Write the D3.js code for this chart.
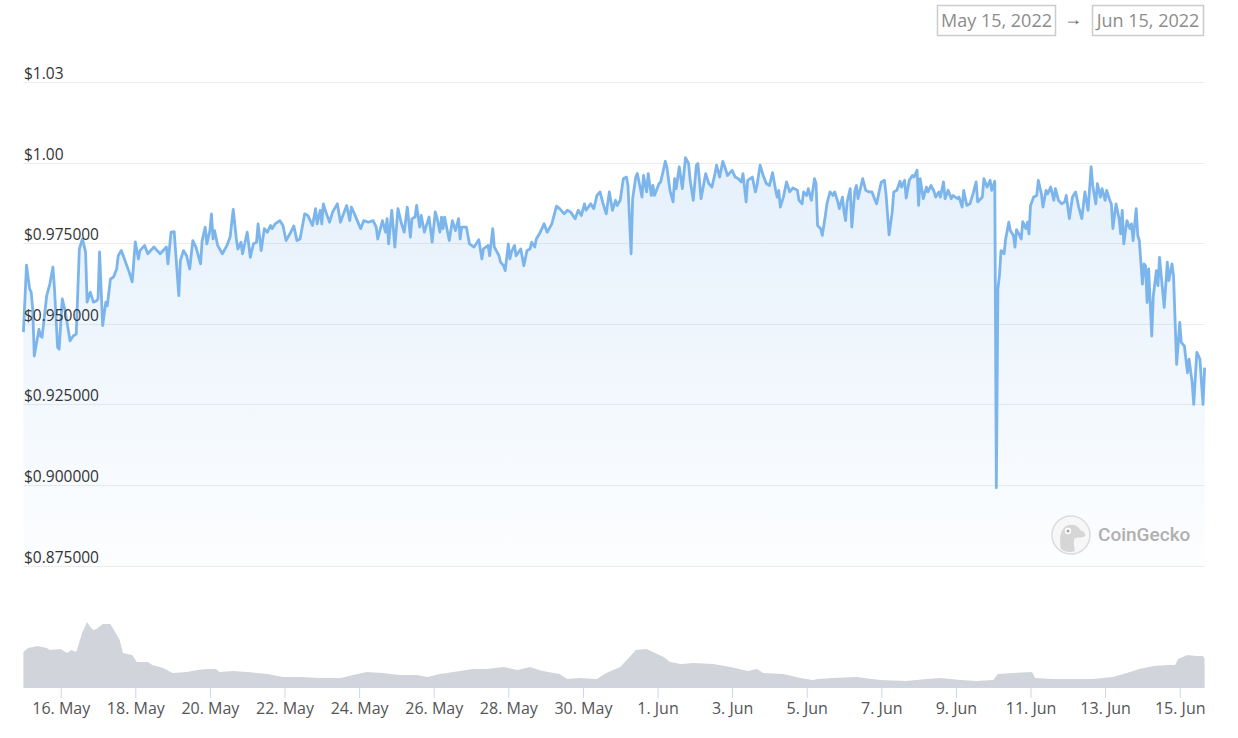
<!DOCTYPE html>
<html><head><meta charset="utf-8">
<script src="https://cdn.jsdelivr.net/npm/d3@7"></script>
<style>
html,body{margin:0;padding:0;background:#fff;}
svg{display:block;font-family:"Open Sans","Noto Sans",sans-serif;}
</style></head>
<body><svg id="c" width="1238" height="738"></svg>
<script>
// ---- data ----
const startDate = new Date(2022, 4, 15, 0, 0); // hours below are offsets from here
const rangeLabels = ["May 15, 2022", "Jun 15, 2022"];
const yTickValues = [0.875, 0.9, 0.925, 0.95, 0.975, 1.0, 1.025];
const yTickLabels = ["$0.875000", "$0.900000", "$0.925000", "$0.950000", "$0.975000", "$1.00", "$1.03"];
const xTickStart = new Date(2022, 4, 16);
const xTickEnd = new Date(2022, 5, 16);
// [hour offset, price USD]
const prices = [[0,.9474],[2,.9682],[4,.9608],[5,.9598],[6,.9545],[7,.9400],[10,.9483],[11,.9462],[12,.9458],[15,.9587],[17,.9623],[19,.9676],[20,.9608],[22,.9427],[23,.9421],[25,.9577],[27,.9536],[30,.9447],[32,.9462],[34,.9468],[36,.9732],[38,.9763],[40,.9723],[41,.9567],[43,.9598],[45,.9567],[47,.9571],[48,.9577],[49,.9723],[51,.9494],[53,.9567],[54,.9556],[56,.9639],[58,.9645],[60,.9670],[61,.9711],[63,.9727],[65,.9701],[68,.9661],[70,.9630],[72,.9754],[74,.9701],[75,.9727],[78,.9743],[80,.9717],[84,.9738],[86,.9727],[88,.9717],[92,.9738],[93,.9686],[95,.9784],[97,.9786],[100,.9587],[101,.9696],[103,.9727],[105,.9711],[107,.9670],[109,.9758],[111,.9738],[114,.9686],[115,.9758],[117,.9800],[118,.9748],[120,.9789],[121,.9841],[122,.9763],[123,.9789],[125,.9743],[128,.9717],[131,.9743],[133,.9769],[135,.9855],[137,.9763],[138,.9732],[140,.9753],[141,.9717],[144,.9784],[146,.9706],[148,.9748],[150,.9753],[151,.9810],[153,.9727],[155,.9795],[157,.9784],[159,.9805],[160,.9795],[162,.9810],[165,.9820],[167,.9805],[169,.9758],[172,.9784],[174,.9803],[176,.9758],[178,.9763],[181,.9841],[183,.9836],[186,.9805],[188,.9857],[189,.9810],[191,.9852],[192,.9810],[193,.9872],[195,.9841],[197,.9815],[199,.9847],[202,.9872],[204,.9815],[206,.9841],[208,.9867],[210,.9820],[211,.9862],[213,.9841],[217,.9795],[219,.9820],[222,.9815],[225,.9820],[227,.9800],[228,.9763],[231,.9820],[233,.9784],[234,.9826],[235,.9748],[237,.9852],[239,.9738],[241,.9857],[243,.9815],[245,.9784],[247,.9862],[249,.9769],[250,.9826],[252,.9831],[253,.9867],[255,.9800],[256,.9836],[258,.9784],[261,.9831],[263,.9753],[265,.9847],[266,.9831],[268,.9784],[269,.9831],[270,.9795],[271,.9831],[274,.9758],[276,.9820],[278,.9789],[280,.9826],[281,.9763],[282,.9800],[285,.9800],[287,.9748],[290,.9738],[293,.9761],[295,.9701],[296,.9732],[299,.9743],[300,.9711],[302,.9795],[303,.9738],[306,.9711],[307,.9691],[309,.9680],[310,.9665],[312,.9748],[313,.9701],[314,.9722],[316,.9743],[317,.9711],[320,.9732],[322,.9680],[324,.9727],[326,.9732],[327,.9753],[329,.9738],[330,.9763],[332,.9779],[335,.9810],[337,.9784],[340,.9810],[343,.9865],[345,.9857],[348,.9841],[350,.9852],[352,.9847],[355,.9826],[357,.9852],[359,.9836],[361,.9872],[362,.9852],[365,.9872],[367,.9857],[369,.9898],[371,.9909],[373,.9872],[375,.9841],[377,.9909],[379,.9852],[381,.9883],[382,.9867],[384,.9883],[386,.9950],[388,.9955],[389,.9929],[391,.9717],[392,.9888],[394,.9955],[395,.9966],[397,.9919],[398,.9893],[399,.9960],[401,.9909],[402,.9966],[404,.9898],[405,.9929],[406,.9898],[409,.9935],[410,.9940],[411,.9960],[413,1.0004],[414,.9987],[416,.9914],[418,.9878],[419,.9950],[420,.9919],[422,.9987],[424,.9919],[426,1.0015],[428,.9997],[429,.9945],[431,.9883],[433,.9992],[434,.9997],[436,.9888],[439,.9966],[441,.9935],[443,.9924],[445,.9966],[446,.9992],[448,.9955],[450,1.0004],[452,.9976],[453,.9960],[456,.9976],[458,.9955],[460,.9950],[462,.9940],[463,.9966],[465,.9878],[466,.9945],[469,.9955],[471,.9909],[472,.9929],[474,.9992],[476,.9960],[478,.9935],[480,.9929],[482,.9969],[484,.9914],[485,.9893],[486,.9914],[487,.9862],[489,.9893],[491,.9940],[493,.9909],[495,.9921],[498,.9914],[499,.9883],[501,.9872],[502,.9909],[504,.9898],[505,.9919],[507,.9883],[509,.9950],[510,.9935],[511,.9805],[513,.9795],[514,.9774],[516,.9836],[517,.9872],[519,.9909],[521,.9898],[522,.9909],[524,.9878],[525,.9857],[527,.9893],[528,.9847],[529,.9820],[530,.9878],[532,.9919],[533,.9800],[535,.9914],[536,.9929],[537,.9888],[539,.9929],[540,.9950],[542,.9914],[544,.9909],[546,.9909],[548,.9883],[549,.9872],[551,.9919],[552,.9940],[554,.9945],[555,.9903],[557,.9776],[559,.9847],[560,.9909],[562,.9914],[564,.9942],[565,.9924],[567,.9945],[568,.9890],[570,.9945],[572,.9960],[573,.9955],[575,.9976],[576,.9867],[577,.9950],[579,.9888],[581,.9924],[582,.9909],[584,.9929],[586,.9909],[587,.9893],[589,.9909],[590,.9893],[592,.9940],[593,.9888],[595,.9914],[597,.9888],[598,.9898],[601,.9888],[602,.9893],[604,.9862],[605,.9914],[607,.9867],[609,.9872],[611,.9903],[613,.9940],[614,.9878],[617,.9893],[618,.9950],[620,.9924],[622,.9945],[623,.9914],[625,.9942],[626,.8991],[627,.9608],[628,.9649],[629,.9727],[631,.9717],[632,.9763],[634,.9815],[635,.9789],[637,.9774],[638,.9738],[639,.9792],[641,.9774],[642,.9763],[643,.9817],[645,.9795],[646,.9815],[647,.9779],[648,.9867],[650,.9893],[652,.9898],[653,.9945],[655,.9903],[656,.9862],[658,.9914],[659,.9903],[661,.9924],[663,.9883],[664,.9919],[666,.9883],[668,.9872],[670,.9878],[671,.9898],[673,.9826],[675,.9893],[677,.9909],[679,.9862],[681,.9826],[683,.9909],[685,.9852],[687,.9987],[688,.9929],[690,.9872],[691,.9935],[693,.9893],[694,.9919],[696,.9883],[697,.9914],[699,.9883],[700,.9872],[701,.9795],[703,.9872],[705,.9826],[706,.9779],[707,.9852],[708,.9748],[710,.9820],[712,.9795],[713,.9810],[714,.9758],[716,.9857],[717,.9774],[718,.9758],[720,.9623],[721,.9686],[722,.9680],[723,.9566],[724,.9670],[726,.9462],[727,.9587],[729,.9665],[730,.9618],[731,.9706],[734,.9551],[736,.9691],[737,.9634],[739,.9686],[740,.9649],[742,.9374],[744,.9504],[745,.9442],[747,.9431],[749,.9348],[750,.9390],[752,.9317],[753,.9250],[755,.9411],[757,.9390],[758,.9317],[759,.9250],[760,.9364]];
// [hour offset, volume (USD millions, estimated)]
const volumes = [[0,350],[3,390],[9,410],[15,390],[17,370],[24,380],[28,340],[31,370],[34,350],[36,450],[38,550],[41,650],[43,600],[45,570],[47,580],[51,630],[56,630],[59,550],[62,470],[64,340],[70,320],[73,250],[80,250],[83,220],[90,190],[96,140],[105,150],[112,170],[118,180],[124,180],[126,150],[135,160],[144,150],[157,130],[167,100],[178,100],[191,90],[204,90],[212,120],[221,150],[231,140],[242,120],[253,120],[260,100],[268,130],[281,160],[289,180],[298,180],[309,200],[318,170],[326,200],[334,160],[345,130],[350,80],[358,90],[369,80],[375,140],[384,200],[390,300],[394,370],[401,380],[405,350],[412,300],[416,250],[423,230],[431,240],[444,230],[455,200],[466,160],[472,180],[476,140],[489,130],[500,90],[508,70],[511,80],[521,90],[536,100],[551,70],[568,60],[581,80],[590,90],[603,70],[613,60],[624,70],[627,130],[637,140],[649,150],[651,90],[662,80],[675,80],[688,80],[701,100],[710,140],[718,180],[727,210],[736,220],[741,220],[743,280],[749,320],[755,310],[759,310],[760,280]];

// ---- drawing ----
const HOUR = 3600e3;
const toDate = h => new Date(startDate.getTime() + h * HOUR);
const svg = d3.select("#c");
const left = 23.4, right = 1204.6;

const x = d3.scaleTime().domain([toDate(0), toDate(760)]).range([left, right]);
const y = d3.scaleLinear().domain([0.875, 1.025]).range([565.5, 82]);
const yv = d3.scaleLinear().domain([0, 700]).range([687, 617]);

// gradient
const defs = svg.append("defs");
const grad = defs.append("linearGradient").attr("id", "g").attr("gradientUnits", "userSpaceOnUse")
  .attr("x1", 0).attr("x2", 0).attr("y1", y(1.0)).attr("y2", y(0.875));
grad.append("stop").attr("offset", 0).attr("stop-color", "#7cb5ec").attr("stop-opacity", 0.2);
grad.append("stop").attr("offset", 1).attr("stop-color", "#7cb5ec").attr("stop-opacity", 0.02);

// gridlines
svg.append("g").selectAll("line").data(yTickValues).join("line")
  .attr("x1", left).attr("x2", right)
  .attr("y1", d => Math.round(y(d)) + 0.5).attr("y2", d => Math.round(y(d)) + 0.5)
  .attr("stroke", "#ececec").attr("stroke-width", 1);

// area + line
const area = d3.area().x(d => x(toDate(d[0]))).y0(y(0.875)).y1(d => y(d[1]));
svg.append("path").datum(prices).attr("d", area).attr("fill", "url(#g)");
const line = d3.line().x(d => x(toDate(d[0]))).y(d => y(d[1]));
svg.append("path").datum(prices).attr("d", line).attr("fill", "none")
  .attr("stroke", "#7cb5ec").attr("stroke-width", 2.8).attr("stroke-linejoin", "round");

// y labels
svg.append("g").selectAll("text").data(yTickValues).join("text")
  .attr("x", 24).attr("y", d => y(d) - 3)
  .attr("font-size", 15.5).attr("fill", "#333")
  .text((d, i) => yTickLabels[i]);

// volume
const varea = d3.area().x(d => x(toDate(d[0]))).y0(yv(0)).y1(d => yv(d[1]));
svg.append("path").datum(volumes).attr("d", varea).attr("fill", "#d1d4db");

// x axis
const xTicks = d3.timeDay.range(xTickStart, xTickEnd, 2);
const xAxis = d3.axisBottom(x).tickValues(xTicks).tickFormat(d3.timeFormat("%-d. %b")).tickSize(11).tickPadding(5);
const gx = svg.append("g").attr("transform", "translate(0,687)").call(xAxis);
gx.select(".domain").attr("stroke", "#ccd6eb").attr("d", `M${left},0.5H${right}`);
gx.selectAll(".tick line").attr("stroke", "#ccd6eb");
gx.selectAll(".tick text").attr("font-size", 16).attr("fill", "#555").attr("font-family", "'Open Sans',sans-serif");

// date range boxes
const boxes = [{x: 937, w: 118}, {x: 1092, w: 111}];
boxes.forEach((b, i) => {
  svg.append("rect").attr("x", b.x + 0.5).attr("y", 5.5).attr("width", b.w).attr("height", 30)
    .attr("fill", "#fff").attr("stroke", "#cccccc").attr("stroke-width", 1.5);
  svg.append("text").attr("x", b.x + b.w / 2 + 0.5).attr("y", 27).attr("text-anchor", "middle")
    .attr("font-size", 18).attr("fill", "#8c8c8c").text(rangeLabels[i]);
});
svg.append("text").attr("x", 1073).attr("y", 25).attr("text-anchor", "middle")
  .attr("font-size", 18).attr("fill", "#666").text("→");

// CoinGecko watermark
const wm = svg.append("g").attr("transform", "translate(1071,535)");
wm.append("circle").attr("r", 19).attr("fill", "#f7f7f7").attr("stroke", "#dcdcdc").attr("stroke-width", 1.5);
wm.append("path").attr("d", "M-10,14 C-12,4 -11,-8 -2,-10 C4,-11 8,-8 9,-5 C12,-4 15,-2 14,1 C12,3 8,2 4,3 C2,6 3,11 4,16 C-1,18 -6,17 -10,14 Z")
  .attr("fill", "#d6d6d6");
wm.append("circle").attr("cx", -3).attr("cy", -4).attr("r", 3.2).attr("fill", "#fff");
wm.append("circle").attr("cx", -3).attr("cy", -4).attr("r", 1.6).attr("fill", "#a8a8a8");
svg.append("text").attr("x", 1098).attr("y", 541).attr("font-size", 19).attr("font-family", "Roboto,'Open Sans',sans-serif")
  .attr("font-weight", 500).attr("fill", "#b0b0b0").text("CoinGecko");
</script>
</body></html>
